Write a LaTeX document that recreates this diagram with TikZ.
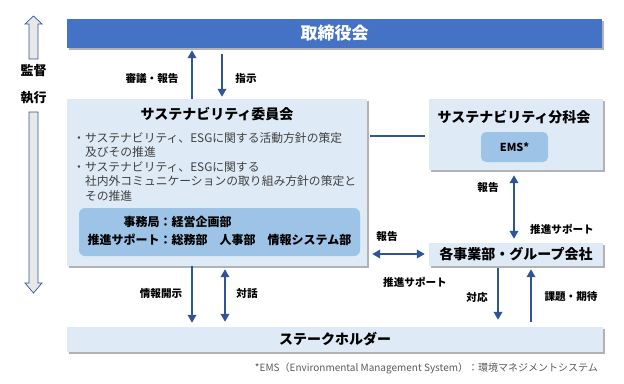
\documentclass[tikz,border=0pt]{standalone}
\usepackage{fontspec}
\setmainfont{Noto Sans CJK JP}
\usetikzlibrary{arrows.meta,shadows}

\definecolor{boardblue}{HTML}{4472C4}
\definecolor{paleblue}{HTML}{DEEBF7}
\definecolor{midblue}{HTML}{9DC3E6}
\definecolor{arrowblue}{HTML}{2F5597}
\definecolor{bodygray}{HTML}{404040}
\definecolor{notegray}{HTML}{595959}

\tikzset{
  box/.style={rectangle, fill=paleblue, inner sep=0pt,
    drop shadow={shadow xshift=1.6pt, shadow yshift=-1.6pt, fill=black, opacity=0.3}},
  innerbox/.style={rectangle, rounded corners=6pt, fill=midblue, inner sep=0pt},
  title/.style={font=\fontsize{14}{16}\selectfont\bfseries},
  lbl/.style={font=\fontsize{10.6}{12}\selectfont\bfseries, inner sep=0pt},
  flow/.style={draw=arrowblue, line width=2.6pt, -{Triangle[width=8.5pt,length=8pt]}},
  twoway/.style={draw=arrowblue, line width=2.6pt, {Triangle[width=8.5pt,length=8pt]}-{Triangle[width=8.5pt,length=8pt]}},
  hollow/.style={draw=arrowblue, line width=0.7pt, fill=gray!18, line join=miter}
}

\begin{document}
\begin{tikzpicture}[x=1pt, y=-1pt]
\useasboundingbox (0,0) rectangle (624,383);

% Boxes
\node[box, fill=boardblue, minimum width=535, minimum height=29,
      text=white, font=\fontsize{17}{19}\selectfont\bfseries] (board) at (334.5,33.5) {取締役会};

\node[box, minimum width=300, minimum height=167] (committee) at (217,182.5) {};
\node[title] (comtitle) at (217,114) {サステナビリティ委員会};
\node[anchor=north west, inner sep=0pt, text=bodygray,
      font=\fontsize{11.8}{14.5}\selectfont] (aims) at (73,132) {%
  \begin{tabular}{@{}l@{}l@{}}
  ・&サステナビリティ、ESGに関する活動方針の策定\\
  &及びその推進\\
  ・&サステナビリティ、ESGに関する\\
  &社内外コミュニケーションの取り組み方針の策定と\\
  &その推進
  \end{tabular}};
\node[innerbox, minimum width=281, minimum height=48,
      font=\fontsize{12}{18}\selectfont\bfseries] (office) at (219.5,232) {%
  \begin{tabular}{@{}r@{}l@{}}
  事務局：&経営企画部\\
  推進サポート：&総務部　人事部　情報システム部
  \end{tabular}};

\node[box, minimum width=174, minimum height=71] (subcom) at (516,134.5) {};
\node[title] (subtitle) at (514,117) {サステナビリティ分科会};
\node[innerbox, rounded corners=5pt, minimum width=67, minimum height=30,
      font=\fontsize{11}{13}\selectfont\bfseries] (ems) at (514.5,147) {EMS*};

\node[box, minimum width=174, minimum height=23, title] (biz) at (516,254.5) {各事業部・グループ会社};

\node[box, minimum width=536, minimum height=25, title] (stake) at (335,339.5) {ステークホルダー};

% Hollow arrows
\draw[hollow] (29,59) -- (29,24) -- (25,24) -- (33.5,16) -- (42,24) -- (38,24) -- (38,59) -- cycle;
\draw[hollow] (29,112) -- (29,283) -- (25,283) -- (33.5,293) -- (42,283) -- (38,283) -- (38,112) -- cycle;
\node[font=\fontsize{13}{15}\selectfont\bfseries] (watch) at (33.5,71) {監督};
\node[font=\fontsize{13}{15}\selectfont\bfseries] (run) at (33.5,98) {執行};

% Connectors
\coordinate (xa) at (192,0);
\coordinate (xb) at (222,0);
\coordinate (xc) at (225,0);
\coordinate (xd) at (514,0);
\coordinate (xe) at (498,0);
\coordinate (xf) at (531,0);
\coordinate (ya) at (0,136);
\coordinate (yb) at (0,254);

\draw[flow, shorten >=2pt] (xa |- committee.north) -- (xa |- board.south);
\draw[flow, shorten <=6pt, shorten >=2pt] (xb |- board.south) -- (xb |- committee.north);
\draw[flow, shorten >=4pt] (xa |- committee.south) -- (xa |- stake.north);
\draw[twoway, shorten <=3pt, shorten >=5pt] (xc |- committee.south) -- (xc |- stake.north);
\draw[draw=arrowblue, line width=2.6pt, shorten <=3pt, shorten >=4pt] (ya -| committee.east) -- (ya -| subcom.west);
\draw[twoway, shorten <=5pt, shorten >=4pt] (xd |- subcom.south) -- (xd |- biz.north);
\draw[twoway, shorten <=5pt, shorten >=4pt] (yb -| committee.east) -- (yb -| biz.west);
\draw[flow, shorten <=2pt, shorten >=7pt] (xe |- biz.south) -- (xe |- stake.north);
\draw[flow, shorten <=5pt, shorten >=3pt] (xf |- stake.north) -- (xf |- biz.south);

% Labels
\node[lbl] (l1) at (152,78) {審議・報告};
\node[lbl] (l2) at (246,78) {指示};
\node[lbl] (l3) at (161,293) {情報開示};
\node[lbl] (l4) at (247,293) {対話};
\node[lbl] (l5) at (488,187) {報告};
\node[lbl] (l6) at (562,229) {推進サポート};
\node[lbl] (l7) at (387,236) {報告};
\node[lbl] (l8) at (415,282) {推進サポート};
\node[lbl] (l9) at (477,297) {対応};
\node[lbl] (l10) at (571,297) {課題・期待};

\node[anchor=east, inner sep=0pt, text=notegray, font=\fontsize{10}{12}\selectfont] (note) at (598,368)
  {*EMS（Environmental Management System）：環境マネジメントシステム};

\end{tikzpicture}
\end{document}
